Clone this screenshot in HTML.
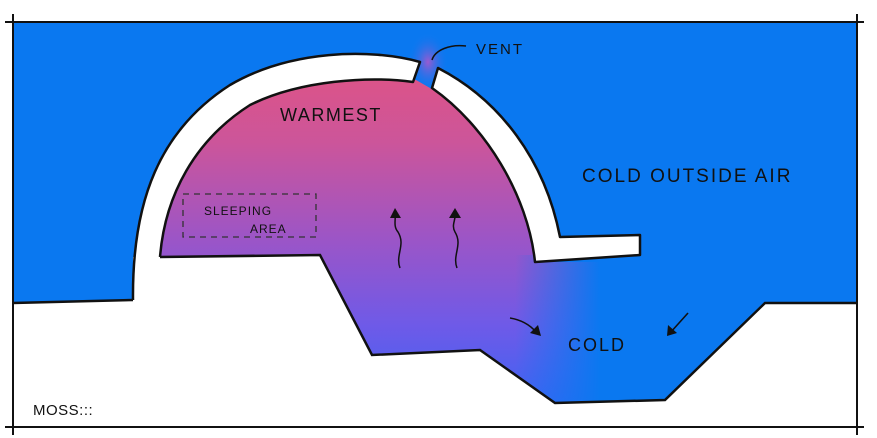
<!DOCTYPE html>
<html><head><meta charset="utf-8"><style>
html,body{margin:0;padding:0;background:#fff;width:877px;height:438px;overflow:hidden}
text{font-family:"Liberation Sans",sans-serif;fill:#111}
</style></head><body>
<svg width="877" height="438" viewBox="0 0 877 438" xmlns="http://www.w3.org/2000/svg">
<defs>
<linearGradient id="pk" x1="0" y1="0" x2="0" y2="1">
<stop offset="0" stop-color="#dc5488"/>
<stop offset="0.2" stop-color="#cc559a"/>
<stop offset="0.5" stop-color="#9a55c8"/>
<stop offset="0.75" stop-color="#6e5ae8"/>
<stop offset="1" stop-color="#3a64f4"/>
</linearGradient>
<linearGradient id="fade" x1="0" y1="0" x2="1" y2="0">
<stop offset="0" stop-color="#0a78f0" stop-opacity="0"/>
<stop offset="1" stop-color="#0a78f0" stop-opacity="1"/>
</linearGradient>
<radialGradient id="vg" cx="0.5" cy="0.5" r="0.5">
<stop offset="0" stop-color="#9a5ad0"/>
<stop offset="1" stop-color="#0a78f0" stop-opacity="0"/>
</radialGradient>
</defs>
<rect x="13" y="22" width="844" height="395" fill="#0a78f0"/>
<ellipse cx="428" cy="62" rx="20" ry="30" fill="url(#vg)"/>
<path d="M160,257 C160,160 240,82 330,76 C370,74 395,76 416,80 L430,88 C480,120 530,190 537,262 L600,262 L600,410 L372,410 L372,355 L320,255 Z" fill="url(#pk)"/>
<rect x="515" y="255" width="85" height="160" fill="url(#fade)"/>
<!-- ground -->
<path d="M13,303 L133,300 L133,257 L160,257 L320,255 L372,355 L480,350 L555,403 L665,400 L765,303 L857,303 L857,427 L13,427 Z" fill="#fff"/>
<path d="M13,303 L133,300 M160,257 L320,255 L372,355 L480,350 L555,403 L665,400 L765,303 L857,303" fill="none" stroke="#111" stroke-width="2.5"/>
<!-- left wall -->
<path d="M133,300 C132,200 160,130 230,85 C290,50 370,48 420,62 L413,82 C370,76 300,80 250,105 C195,140 165,195 160,257" fill="#fff" stroke="#111" stroke-width="2.5" stroke-linejoin="round"/>
<!-- right wall -->
<path d="M438,68 C500,100 545,160 560,237 L640,235 L640,255 L535,262 C528,195 485,125 432,88 Z" fill="#fff" stroke="#111" stroke-width="2.5" stroke-linejoin="round"/>
<!-- border lines -->
<path d="M5,22 L864,22 M5,427 L864,427 M13,14 L13,435 M857,14 L857,435" stroke="#111" stroke-width="2"/>
<!-- vent label -->
<path d="M432,60 C435,50 450,44 466,46" fill="none" stroke="#111" stroke-width="1.5"/>
<text x="476" y="54" font-size="15" letter-spacing="2">VENT</text>
<text x="280" y="121" font-size="18" letter-spacing="1.5">WARMEST</text>
<text x="582" y="182" font-size="19" letter-spacing="2">COLD OUTSIDE AIR</text>
<rect x="183" y="194" width="133" height="43" fill="none" stroke="#333" stroke-width="1.3" stroke-dasharray="6,5"/>
<text x="204" y="215" font-size="12" letter-spacing="1">SLEEPING</text>
<text x="250" y="233" font-size="12" letter-spacing="1">AREA</text>
<!-- wavy arrows -->
<path d="M400,268 C395,255 406,245 398,232 C393,226 396,220 395,214" fill="none" stroke="#111" stroke-width="1.5"/>
<path d="M390,218 L395,208 L401,218 Z" fill="#111"/>
<path d="M457,268 C452,255 463,245 455,232 C451,225 456,220 455,214" fill="none" stroke="#111" stroke-width="1.5"/>
<path d="M449,218 L455,208 L461,218 Z" fill="#111"/>
<!-- cold arrows -->
<path d="M510,318 C522,320 530,325 536,332" fill="none" stroke="#111" stroke-width="1.6"/>
<path d="M530,333 L541,336 L538,325 Z" fill="#111"/>
<path d="M688,313 L670,333" stroke="#111" stroke-width="1.6"/>
<path d="M667,336 L668,325 L677,333 Z" fill="#111"/>
<text x="568" y="351" font-size="18" letter-spacing="2">COLD</text>
<text x="33" y="415" font-size="15" letter-spacing="0.5">MOSS:::</text>
</svg>
</body></html>
